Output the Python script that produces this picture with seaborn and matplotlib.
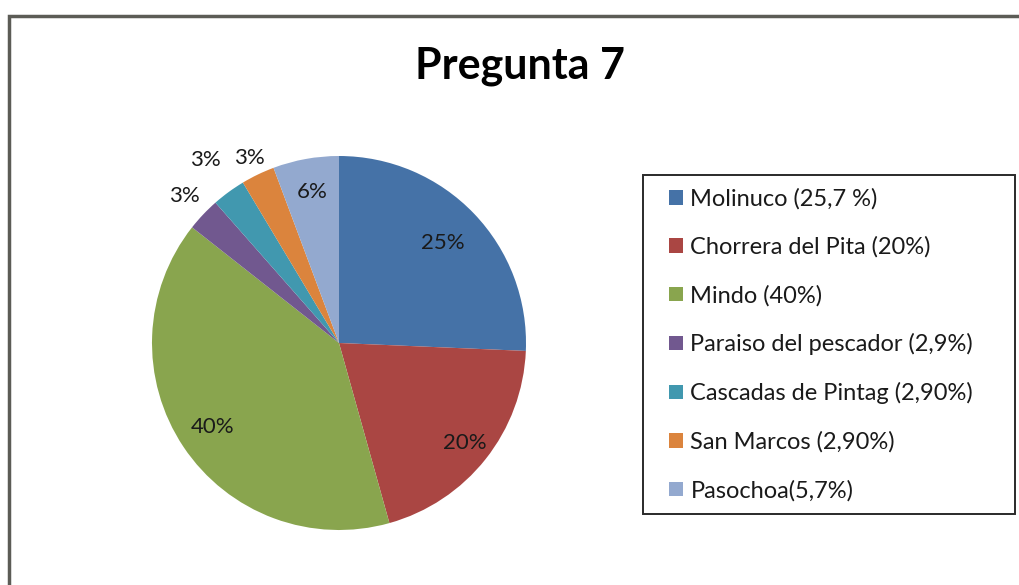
import matplotlib
matplotlib.use("Agg")
import matplotlib.pyplot as plt
import matplotlib.patches as mpatches
import seaborn as sns
import numpy as np

categories = ["Molinuco (25,7 %)", "Chorrera del Pita (20%)", "Mindo (40%)",
              "Paraiso del pescador (2,9%)", "Cascadas de Pintag (2,90%)",
              "San Marcos (2,90%)", "Pasochoa(5,7%)"]
values = [25.7, 20.0, 40.0, 2.9, 2.9, 2.9, 5.7]
pct_labels = ["25%", "20%", "40%", "3%", "3%", "3%", "6%"]
colors = ["#4572A7", "#AA4643", "#89A54E", "#71588F", "#4198AF", "#DB843D", "#93A9CF"]
label_dist = [0.77, 0.86, 0.81, 1.14, 1.21, 1.10, 0.82]

sns.set_style("white")
plt.rcParams['font.family'] = ['Lato', 'DejaVu Sans']

W, H = 1019, 585
fig = plt.figure(figsize=(W / 100, H / 100), dpi=100)
fig.patch.set_facecolor("white")

# outer chart frame
fig.patches.append(mpatches.Rectangle((9 / W, -0.1), 1.2, 1 - 16 / H + 0.1,
                                      transform=fig.transFigure, fill=False,
                                      edgecolor="#5c5c56", linewidth=2.5, zorder=0))
# legend frame
fig.patches.append(mpatches.Rectangle((643 / W, 1 - 514 / H), (1015 - 643) / W, (514 - 175) / H,
                                      transform=fig.transFigure, fill=False,
                                      edgecolor="#2a2a2a", linewidth=1.4, zorder=1))

cx, cy, r = 339, 343, 187
ax = fig.add_axes([(cx - r) / W, (H - cy - r) / H, 2 * r / W, 2 * r / H])
wedges, _ = ax.pie(values, colors=colors, startangle=90, counterclock=False,
                   radius=1, wedgeprops=dict(linewidth=0))
ax.set_xlim(-1, 1)
ax.set_ylim(-1, 1)
ax.set_aspect("equal", adjustable="box")
ax.axis("off")

for w, lab, d in zip(wedges, pct_labels, label_dist):
    ang = np.deg2rad((w.theta1 + w.theta2) / 2)
    ax.text(d * np.cos(ang), d * np.sin(ang), lab, ha="center", va="center",
            fontsize=16, color="#1a1a1a")

fig.text(520 / W, 1 - 66 / H, "Pregunta 7", ha="center", va="center",
         fontsize=31, fontweight="bold", color="black")

leg = fig.legend(wedges, categories, loc="upper left",
                 bbox_to_anchor=(669 / W, 1 - 188 / H),
                 frameon=False, fontsize=17,
                 handlelength=0.58, handleheight=0.58, handletextpad=0.33,
                 labelspacing=1.14, borderpad=0, borderaxespad=0)
for t in leg.get_texts():
    t.set_color("#1a1a1a")

fig.savefig("out.png", dpi=100, facecolor="white")
